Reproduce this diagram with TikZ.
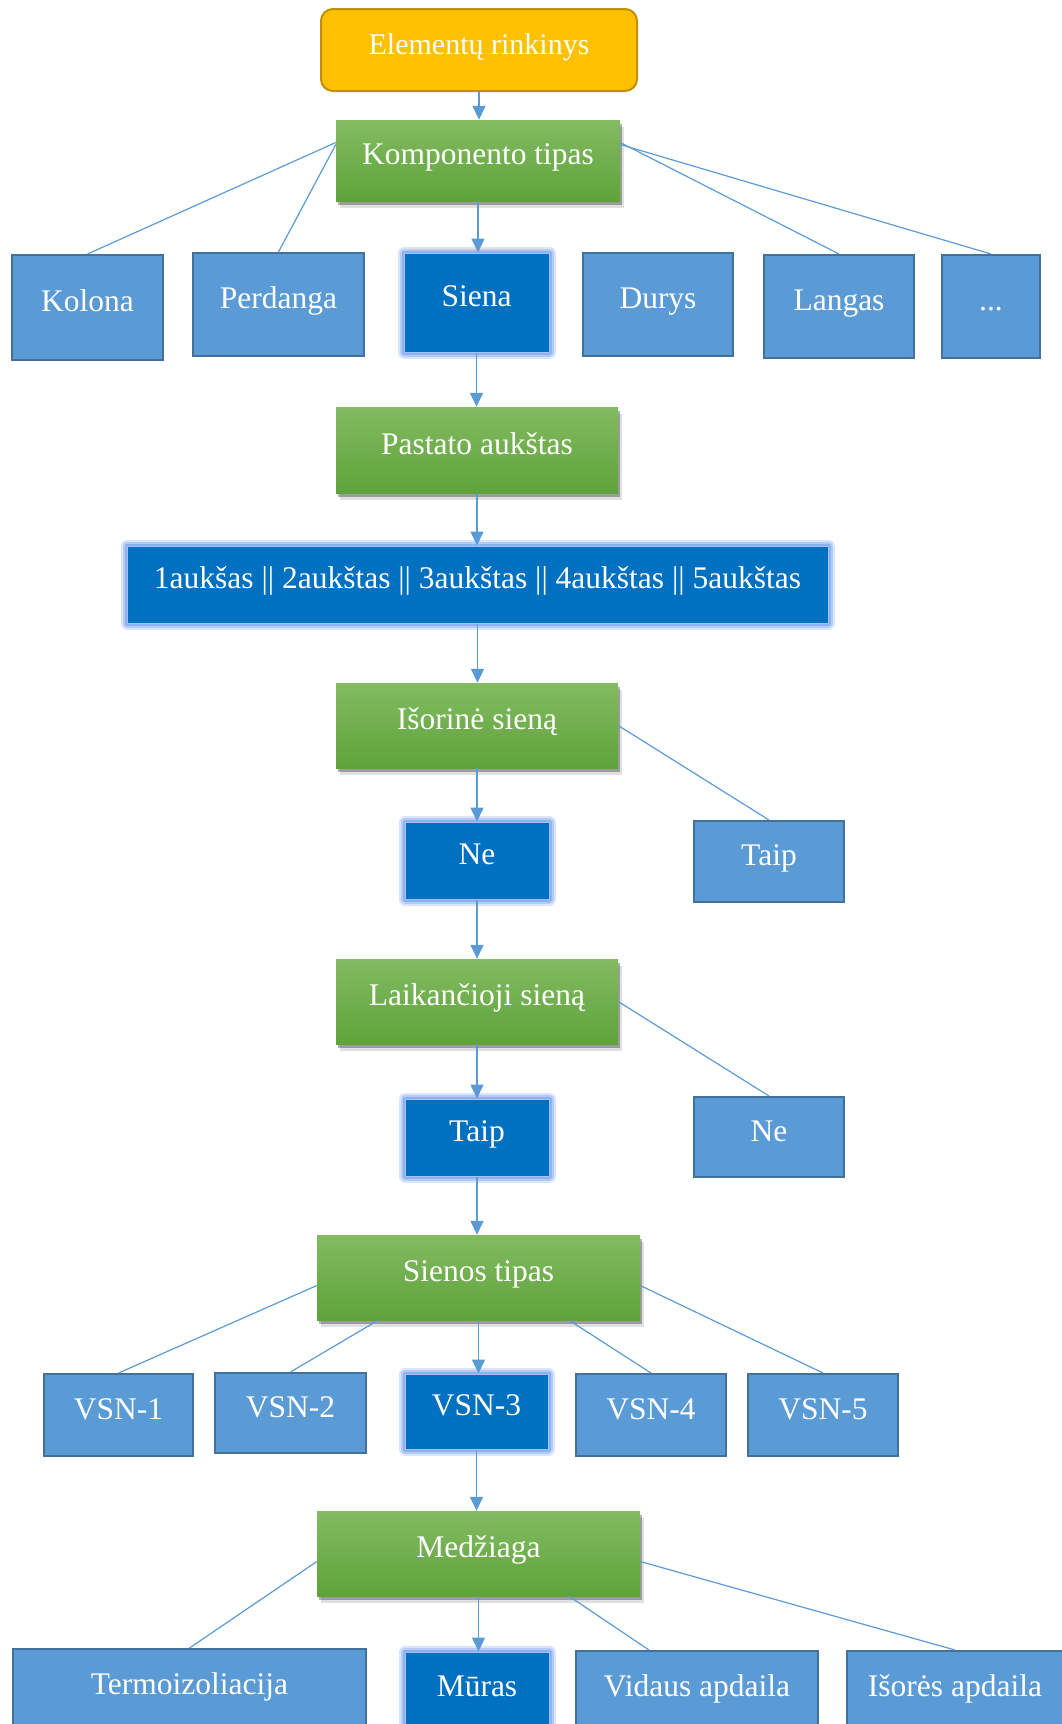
\documentclass[tikz,border=0pt]{standalone}
\usepackage{fontspec}
\setmainfont{Liberation Serif}
\usetikzlibrary{arrows.meta, calc, shadows}
\definecolor{elemyellow}{RGB}{255, 192, 0}
\definecolor{elemborder}{RGB}{191, 144, 0}
\definecolor{greentop}{RGB}{131, 187, 98}
\definecolor{greenbot}{RGB}{94, 163, 57}
\definecolor{lightblue}{RGB}{91, 155, 213}
\definecolor{blueborder}{RGB}{65, 113, 156}
\definecolor{darkblue}{RGB}{0, 112, 192}
\definecolor{glowblue}{RGB}{128, 168, 240}

\begin{document}
\begin{tikzpicture}[
    x=1pt, y=-1pt,
    box/.style={rectangle, text=white, font=\fontsize{31.5}{38}\selectfont, text height=22pt, text depth=14pt, inner sep=0pt, align=center},
    root/.style={box, rounded corners=12pt, fill=elemyellow, draw=elemborder, line width=2pt, font=\fontsize{30}{36}\selectfont},
    level/.style={box, top color=greentop, bottom color=greenbot,
        drop shadow={shadow xshift=4pt, shadow yshift=-7pt, opacity=0.12, fill=black},
        drop shadow={shadow xshift=2pt, shadow yshift=-4pt, opacity=0.3, fill=black}},
    option/.style={box, fill=lightblue, draw=blueborder, line width=2pt},
    chosen/.style={box, fill=darkblue, draw=glowblue!70, line width=1pt,
        preaction={draw=glowblue!30, line width=13pt, line join=round},
        preaction={draw=glowblue!60, line width=9pt, line join=round},
        preaction={draw=glowblue!90, line width=5pt, line join=round}},
    arrow/.style={-{Triangle[length=14pt, width=13pt]}, lightblue, line width=1.5pt},
    link/.style={lightblue, line width=1.2pt}
]
    \useasboundingbox (0,0) rectangle (1062,1724);
    \clip (0,0) rectangle (1062,1724);

    % Root
    \node[root, minimum width=316pt, minimum height=82pt] (elem) at (479,50) {Elementų rinkinys};

    % Component type
    \node[level, minimum width=284pt, minimum height=81pt] (komp) at (478,160.5) {Komponento tipas};
    \node[option, minimum width=151pt, minimum height=105pt] (kolona) at (87.5,307.5) {Kolona};
    \node[option, minimum width=171pt, minimum height=103pt] (perdanga) at (278.5,304.5) {Perdanga};
    \node[chosen, minimum width=145pt, minimum height=99pt] (siena) at (476.5,302.5) {Siena};
    \node[option, minimum width=150pt, minimum height=103pt] (durys) at (658,304.5) {Durys};
    \node[option, minimum width=150pt, minimum height=103pt] (langas) at (839,306.5) {Langas};
    \node[option, minimum width=98pt, minimum height=103pt] (dots) at (991,306.5) {...};

    % Floor
    \node[level, minimum width=282pt, minimum height=86pt] (pastato) at (477,450) {Pastato aukštas};
    \node[chosen, minimum width=701pt, minimum height=77pt] (floors) at (477.5,584.5) {1aukšas || 2aukštas || 3aukštas || 4aukštas || 5aukštas};

    % External wall
    \node[level, minimum width=282pt, minimum height=85pt] (isorine) at (477,725.5) {Išorinė sieną};
    \node[chosen, minimum width=144pt, minimum height=77pt] (neA) at (477,860.5) {Ne};
    \node[option, minimum width=150pt, minimum height=81pt] (taipA) at (769,861.5) {Taip};

    % Load-bearing wall
    \node[level, minimum width=282pt, minimum height=85pt] (laik) at (477,1001.5) {Laikančioji sieną};
    \node[chosen, minimum width=144pt, minimum height=77pt] (taipB) at (477,1137.5) {Taip};
    \node[option, minimum width=150pt, minimum height=80pt] (neB) at (769,1137) {Ne};

    % Wall type
    \node[level, minimum width=323pt, minimum height=85pt] (sienos) at (478.5,1277.5) {Sienos tipas};
    \node[option, minimum width=149pt, minimum height=82pt] (vsnA) at (118.5,1415) {VSN-1};
    \node[option, minimum width=151pt, minimum height=80pt] (vsnB) at (290.5,1413) {VSN-2};
    \node[chosen, minimum width=143pt, minimum height=75pt] (vsnC) at (476.5,1411.5) {VSN-3};
    \node[option, minimum width=150pt, minimum height=82pt] (vsnD) at (651,1415) {VSN-4};
    \node[option, minimum width=150pt, minimum height=82pt] (vsnE) at (823,1415) {VSN-5};

    % Material
    \node[level, minimum width=323pt, minimum height=85pt] (medz) at (478.5,1553.5) {Medžiaga};
    \node[option, minimum width=353pt, minimum height=82pt] (termo) at (189.5,1690) {Termoizoliacija};
    \node[chosen, minimum width=144pt, minimum height=80pt] (muras) at (477,1692) {Mūras};
    \node[option, minimum width=242pt, minimum height=82pt] (vidaus) at (697,1692) {Vidaus apdaila};
    \node[option, minimum width=216pt, minimum height=82pt] (isores) at (955,1692) {Išorės apdaila};

    % Main chain
    \draw[arrow] (elem.south) -- (elem.south |- komp.north);
    \draw[arrow] (komp.south) -- (komp.south |- siena.north);
    \draw[arrow] (siena.south) -- (siena.south |- pastato.north);
    \draw[arrow] (pastato.south) -- (pastato.south |- floors.north);
    \draw[arrow] (floors.south) -- (floors.south |- isorine.north);
    \draw[arrow] (isorine.south) -- (isorine.south |- neA.north);
    \draw[arrow] (neA.south) -- (neA.south |- laik.north);
    \draw[arrow] (laik.south) -- (laik.south |- taipB.north);
    \draw[arrow] (taipB.south) -- (taipB.south |- sienos.north);
    \draw[arrow] (sienos.south) -- (sienos.south |- vsnC.north);
    \draw[arrow] (vsnC.south) -- (vsnC.south |- medz.north);
    \draw[arrow] (medz.south) -- (medz.south |- muras.north);

    % Other branches
    \draw[link] ([yshift=18pt]komp.west) -- (kolona.north);
    \draw[link] ([yshift=16pt]komp.west) -- (perdanga.north);
    \draw[link] ([yshift=18pt]komp.east) -- (langas.north);
    \draw[link] ([yshift=16pt]komp.east) -- (dots.north);
    \draw[link] (isorine.east) -- (taipA.north);
    \draw[link] (laik.east) -- (neB.north);
    \draw[link] ([yshift=-8pt]sienos.west) -- (vsnA.north);
    \draw[link] ($(sienos.south west)!0.19!(sienos.south east)$) -- (vsnB.north);
    \draw[link] ($(sienos.south west)!0.78!(sienos.south east)$) -- (vsnD.north);
    \draw[link] ([yshift=-8pt]sienos.east) -- (vsnE.north);
    \draw[link] ([yshift=-8pt]medz.west) -- (termo.north);
    \draw[link] ($(medz.south west)!0.78!(medz.south east)$) -- ([xshift=-48pt]vidaus.north);
    \draw[link] ([yshift=-8pt]medz.east) -- (isores.north);

\end{tikzpicture}
\end{document}
